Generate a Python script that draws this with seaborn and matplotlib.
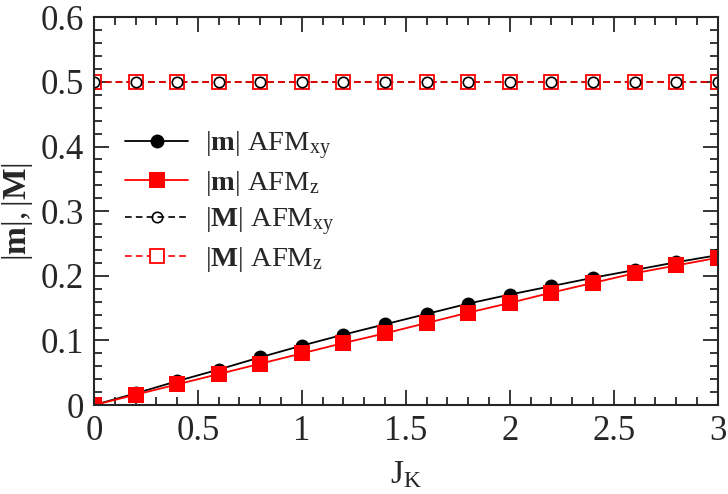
import numpy as np
import pandas as pd
import seaborn as sns
import matplotlib.pyplot as plt
from matplotlib.ticker import MultipleLocator

jk = [0.0, 0.2, 0.4, 0.6, 0.8, 1.0, 1.2, 1.4, 1.6, 1.8, 2.0, 2.2, 2.4, 2.6, 2.8, 3.0]
m_xy = [0.0, 0.018, 0.037, 0.055, 0.074, 0.092, 0.109, 0.125, 0.141, 0.157,
        0.171, 0.184, 0.197, 0.209, 0.221, 0.232]
m_z = [0.0, 0.016, 0.032, 0.048, 0.064, 0.080, 0.096, 0.111, 0.127, 0.143,
       0.158, 0.174, 0.189, 0.204, 0.216, 0.228]
M_xy = [0.5] * 16
M_z = [0.5] * 16

sns.set_style("ticks")
plt.rcParams["font.family"] = ["Liberation Serif", "DejaVu Serif"]
plt.rcParams["mathtext.fontset"] = "custom"
plt.rcParams["mathtext.rm"] = "Liberation Serif"
plt.rcParams["mathtext.it"] = "Liberation Serif:italic"
plt.rcParams["mathtext.bf"] = "Liberation Serif:bold"

df = pd.DataFrame({"jk": jk, "m_xy": m_xy, "m_z": m_z, "M_xy": M_xy, "M_z": M_z})

fig, ax = plt.subplots(figsize=(7.28, 4.94), dpi=100)
fig.subplots_adjust(left=0.129, right=0.986, top=0.965, bottom=0.18)

lab_mxy = r"$|\mathbf{m}|$ AFM$_{\mathrm{xy}}$"
lab_mz = r"$|\mathbf{m}|$ AFM$_{\mathrm{z}}$"
lab_Mxy = r"$|\mathbf{M}|$ AFM$_{\mathrm{xy}}$"
lab_Mz = r"$|\mathbf{M}|$ AFM$_{\mathrm{z}}$"

sns.lineplot(x="jk", y="m_xy", data=df, ax=ax, color="black", lw=1.3,
             marker="o", markersize=10, markeredgewidth=0, label=lab_mxy)
sns.lineplot(x="jk", y="m_z", data=df, ax=ax, color="red", lw=1.3,
             marker="s", markersize=11, markeredgewidth=0, label=lab_mz)
sns.lineplot(x="jk", y="M_xy", data=df, ax=ax, color="black", lw=1.2,
             linestyle=(0, (4, 2.5)), marker="o", markersize=7.5,
             markerfacecolor="none", markeredgecolor="black", markeredgewidth=1.2,
             label=lab_Mxy)
sns.lineplot(x="jk", y="M_z", data=df, ax=ax, color="red", lw=1.2,
             linestyle=(0, (4, 2.5)), marker="s", markersize=10,
             markerfacecolor="white", markeredgecolor="red", markeredgewidth=1.3,
             label=lab_Mz)
# open circles sit inside the open squares
sns.lineplot(x="jk", y="M_xy", data=df, ax=ax, color="black", lw=0,
             marker="o", markersize=7.5, markerfacecolor="none",
             markeredgecolor="black", markeredgewidth=1.2, legend=False)

ax.set_xlim(0, 3)
ax.set_ylim(0, 0.6)
ax.set_xticks([0, 0.5, 1, 1.5, 2, 2.5, 3])
ax.set_xticklabels(["0", "0.5", "1", "1.5", "2", "2.5", "3"])
ax.set_yticks([0, 0.1, 0.2, 0.3, 0.4, 0.5, 0.6])
ax.set_yticklabels(["0", "0.1", "0.2", "0.3", "0.4", "0.5", "0.6"])
ax.xaxis.set_minor_locator(MultipleLocator(0.1))
ax.yaxis.set_minor_locator(MultipleLocator(0.02))
ax.tick_params(which="both", direction="in", top=True, right=True,
               labelsize=25, width=1.3, pad=7)
ax.tick_params(which="major", length=11)
ax.tick_params(which="minor", length=5.5)
for s in ax.spines.values():
    s.set_linewidth(1.5)

ax.set_xlabel(r"J$_{\mathrm{K}}$", fontsize=24, labelpad=8)
ax.set_ylabel(r"$|\mathbf{m}|, |\mathbf{M}|$", fontsize=24, labelpad=4)

h, l = ax.get_legend_handles_labels()
order = [lab_mxy, lab_mz, lab_Mxy, lab_Mz]
hs = [h[l.index(o)] for o in order]
ax.legend(hs, order, loc="upper left", bbox_to_anchor=(0.032, 0.74), frameon=False,
          fontsize=20.5, handlelength=2.2, handletextpad=0.6, labelspacing=0.25,
          borderaxespad=0)

fig.savefig("out.png", dpi=100)
